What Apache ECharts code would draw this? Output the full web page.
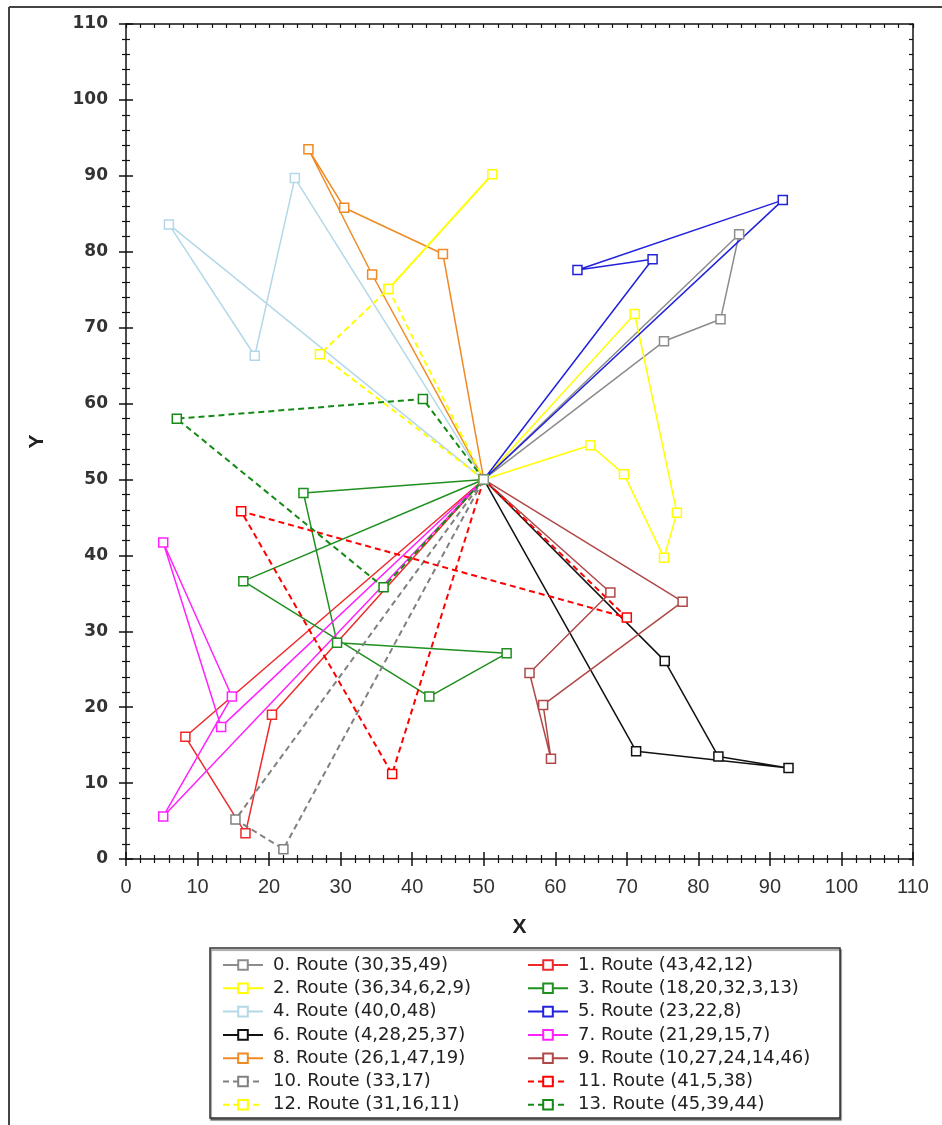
<!DOCTYPE html>
<html>
<head>
<meta charset="utf-8">
<script src="https://cdn.jsdelivr.net/npm/echarts@6/dist/echarts.min.js"></script>
<style>
  html, body { margin: 0; padding: 0; background: #fff; }
  #chart { width: 942px; height: 1125px; }
</style>
</head>
<body>
<div id="chart"></div>
<script>
// Depot shared by every route
const DEPOT = [50, 50];

// Axis range and step (both axes)
const AXIS_MIN = 0;
const AXIS_MAX = 110;
const AXIS_STEP = 10;

// Route legend labels
const ROUTE_NAMES = [
  '0. Route (30,35,49)', '1. Route (43,42,12)',
  '2. Route (36,34,6,2,9)', '3. Route (18,20,32,3,13)',
  '4. Route (40,0,48)', '5. Route (23,22,8)',
  '6. Route (4,28,25,37)', '7. Route (21,29,15,7)',
  '8. Route (26,1,47,19)', '9. Route (10,27,24,14,46)',
  '10. Route (33,17)', '11. Route (41,5,38)',
  '12. Route (31,16,11)', '13. Route (45,39,44)'
];

// Customer stops visited by each route, in order (depot added at both ends)
const route0 = [[75.2, 68.2], [83.1, 71.1], [85.7, 82.3]];
const route1 = [[8.3, 16.1], [16.7, 3.4], [20.4, 19.0]];
const route2 = [[64.9, 54.5], [69.6, 50.7], [75.2, 39.7], [77.0, 45.6], [71.1, 71.8]];
const route3 = [[24.8, 48.2], [29.5, 28.5], [53.2, 27.1], [42.4, 21.4], [16.4, 36.6]];
const route4 = [[23.6, 89.7], [18.0, 66.3], [6.0, 83.6]];
const route5 = [[73.6, 79.0], [63.1, 77.6], [91.8, 86.8]];
const route6 = [[71.3, 14.2], [92.6, 12.0], [82.8, 13.5], [75.3, 26.1]];
const route7 = [[13.3, 17.4], [5.2, 41.7], [14.8, 21.4], [5.2, 5.6]];
const route8 = [[44.3, 79.7], [30.5, 85.8], [25.5, 93.5], [34.4, 77.0]];
const route9 = [[67.7, 35.1], [56.4, 24.5], [59.4, 13.2], [58.3, 20.3], [77.8, 33.9]];
const route10 = [[15.3, 5.2], [22.0, 1.3]];
const route11 = [[37.2, 11.2], [16.1, 45.8], [70.0, 31.8]];
const route12 = [[27.1, 66.5], [36.7, 75.1], [51.2, 90.2], [36.7, 75.1]];
const route13 = [[41.5, 60.6], [7.1, 58.0], [36.0, 35.8]];

const ROUTES = [route0, route1, route2, route3, route4, route5, route6,
                route7, route8, route9, route10, route11, route12, route13];

// Line colour and dash style per route
const ROUTE_COLORS = ['#8c8c8c', '#ee2a2a', '#ffff00', '#1f8f1f', '#b4d8e8', '#2222dd', '#111111',
                      '#ff22ff', '#f08a24', '#b04848', '#808080', '#ff0000', '#ffff00', '#138a13'];
const ROUTE_DASHED = [false, false, false, false, false, false, false,
                      false, false, false, true, true, true, true];

const FONT = 'Arial, "Liberation Sans", sans-serif';
const WIDE_FONT = '"DejaVu Sans", Verdana, sans-serif';

const series = ROUTES.map((stops, i) => ({
  name: ROUTE_NAMES[i],
  type: 'line',
  data: [DEPOT].concat(stops, [DEPOT]),
  symbol: 'rect',
  symbolSize: 9,
  showSymbol: true,
  animation: false,
  lineStyle: {
    color: ROUTE_COLORS[i],
    width: ROUTE_DASHED[i] ? 2 : 1.5,
    type: ROUTE_DASHED[i] ? [6, 4] : 'solid'
  },
  itemStyle: { color: '#ffffff', borderColor: ROUTE_COLORS[i], borderWidth: 1.5 },
  emphasis: { disabled: true }
}));

// Depot marker drawn on top of all routes
series.push({
  name: 'Depot',
  type: 'scatter',
  data: [DEPOT],
  symbol: 'rect',
  symbolSize: 9,
  animation: false,
  z: 5,
  itemStyle: { color: '#ffffff', borderColor: '#9a9a9a', borderWidth: 1.5 }
});

function valueAxis(extra) {
  return Object.assign({
    type: 'value',
    min: AXIS_MIN,
    max: AXIS_MAX,
    interval: AXIS_STEP,
    splitLine: { show: false },
    axisLine: { show: true, onZero: false, lineStyle: { color: '#111', width: 1.5 } },
    axisTick: { show: true, length: 7, lineStyle: { color: '#111', width: 1.5 } },
    minorTick: { show: true, splitNumber: 5, length: 4, lineStyle: { color: '#111', width: 1.2 } },
    axisLabel: { show: false }
  }, extra);
}

const legendCommon = {
  orient: 'vertical',
  padding: 0,
  itemWidth: 40,
  itemHeight: 12,
  itemGap: 5.3,
  textStyle: { fontFamily: WIDE_FONT, fontSize: 18, color: '#222', padding: [0, 0, 0, 5] },
  selectedMode: false
};

const option = {
  backgroundColor: '#ffffff',
  animation: false,
  grid: { left: 126, right: 29, top: 24, bottom: 266, containLabel: false },
  xAxis: [
    valueAxis({
      position: 'bottom',
      name: 'X',
      nameLocation: 'middle',
      nameGap: 58,
      nameTextStyle: { fontFamily: FONT, fontSize: 21, fontWeight: 'bold', color: '#222' },
      axisLabel: { show: true, margin: 18, color: '#333', fontFamily: FONT, fontSize: 20 }
    }),
    valueAxis({ position: 'bottom', axisLine: { show: false }, axisTick: { show: true, inside: true, length: 7, lineStyle: { color: '#111', width: 1.5 } } }),
    valueAxis({ position: 'top', axisTick: { show: true, inside: true, length: 4, lineStyle: { color: '#111', width: 1.2 } },
                minorTick: { show: true, splitNumber: 5, length: 4, lineStyle: { color: '#111', width: 1.2 } } })
  ],
  yAxis: [
    valueAxis({
      position: 'left',
      name: 'Y',
      nameLocation: 'middle',
      nameGap: 78,
      nameRotate: 90,
      nameTextStyle: { fontFamily: FONT, fontSize: 21, fontWeight: 'bold', color: '#222' },
      axisLabel: { show: true, margin: 18, color: '#333', fontFamily: WIDE_FONT, fontSize: 17, fontWeight: 'bold' }
    }),
    valueAxis({ position: 'left', axisLine: { show: false }, axisTick: { show: true, inside: true, length: 7, lineStyle: { color: '#111', width: 1.5 } } }),
    valueAxis({ position: 'right', axisTick: { show: true, inside: true, length: 4, lineStyle: { color: '#111', width: 1.2 } },
                minorTick: { show: true, splitNumber: 5, length: 4, lineStyle: { color: '#111', width: 1.2 } } })
  ],
  legend: [
    Object.assign({ left: 222, top: 956, height: 168, data: ROUTE_NAMES.filter((_, i) => i % 2 === 0) }, legendCommon),
    Object.assign({ left: 527, top: 956, height: 168, data: ROUTE_NAMES.filter((_, i) => i % 2 === 1) }, legendCommon)
  ],
  graphic: [
    // page frame
    { type: 'line', silent: true, shape: { x1: 9, y1: 7, x2: 942, y2: 7 }, style: { stroke: '#444', lineWidth: 2 } },
    { type: 'line', silent: true, shape: { x1: 9, y1: 7, x2: 9, y2: 1125 }, style: { stroke: '#444', lineWidth: 2 } },
    // legend box
    { type: 'rect', silent: true, z: -1, shape: { x: 210, y: 948, width: 630, height: 170 },
      style: { fill: '#fff', stroke: '#333', lineWidth: 1.5, shadowColor: 'rgba(0,0,0,0.45)', shadowOffsetX: 1, shadowOffsetY: 2, shadowBlur: 1 } }
  ],
  series: series
};

const chart = echarts.init(document.getElementById('chart'), null, { renderer: 'canvas' });
chart.setOption(option);
</script>
</body>
</html>
